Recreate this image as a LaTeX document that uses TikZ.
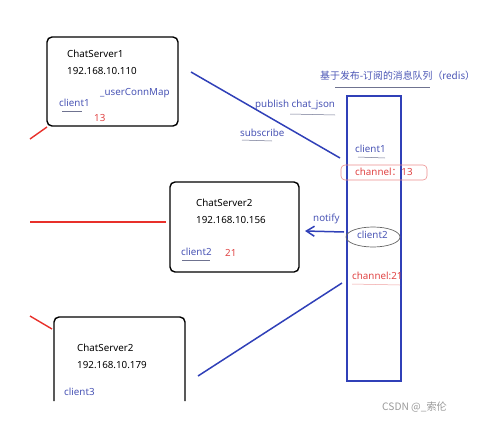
\documentclass[tikz,border=0pt]{standalone}
\usepackage{fontspec}
\setmainfont{Noto Sans}
\newfontfamily\cjk{Noto Sans CJK SC}
\usetikzlibrary{positioning, arrows.meta}

\definecolor{penblue}{HTML}{3040B8}
\definecolor{txtblue}{HTML}{4A55B5}
\definecolor{penred}{HTML}{E8302A}
\definecolor{txtred}{HTML}{E04545}

\tikzset{
  server/.style={draw=black, line width=1.4pt, rounded corners=5pt},
  label/.style={anchor=west, inner sep=0pt, font=\fontsize{9.8}{11}\selectfont},
  bluetxt/.style={label, text=txtblue},
  redtxt/.style={label, text=txtred},
  wire/.style={penblue, line width=1.5pt},
  redwire/.style={penred, line width=1.4pt},
  scribble/.style={gray!70!txtblue, line width=0.5pt}
}

\begin{document}
\begin{tikzpicture}[x=1pt, y=-1pt]

\useasboundingbox (0,0) rectangle (478,423);

% ============================
% CHAT SERVERS
% ============================

\draw[server] (47,37) rectangle (178,126);
\node[label] (s1name) at (67,54) {ChatServer1};
\node[label] (s1ip) at (67,71) {192.168.10.110};
\node[bluetxt] (s1map) at (100,93) {\_userConnMap};
\node[bluetxt] (s1cli) at (59,103) {client1};
\node[redtxt] (s1ch) at (94,118) {13};

\draw[server] (170,182) rectangle (299,272);
\node[label] (s2name) at (196,203) {ChatServer2};
\node[label] (s2ip) at (196,220) {192.168.10.156};
\node[bluetxt] (s2cli) at (181,252) {client2};
\node[redtxt] (s2ch) at (225,253) {21};

% third box runs off the bottom
\draw[server] (54,401) -- (54,317) -- (185,317) -- (185,401);
\node[label] (s3name) at (77,348) {ChatServer2};
\node[label] (s3ip) at (77,365) {192.168.10.179};
\node[bluetxt] (s3cli) at (64,392) {client3};

% client links
\coordinate (c1) at (30,139);
\coordinate (c1e) at (47,127);
\coordinate (c2) at (30,222);
\coordinate (c2e) at (166,222);
\coordinate (c3) at (30,316);
\coordinate (c3e) at (52,329);
\draw[redwire] (c1) -- (c1e);
\draw[redwire] (c2) -- (c2e);
\draw[redwire] (c3) -- (c3e);

% ============================
% MESSAGE QUEUE
% ============================

\draw[penblue, line width=1.6pt] (347,96) rectangle (401,381);
\node[bluetxt, font=\cjk\fontsize{9.9}{11}\selectfont] (mq) at (320,76) {基于发布-订阅的消息队列（redis）};

\node[bluetxt] (q1) at (355,149) {client1};
\draw[txtred!60, rounded corners=4pt, line width=0.6pt] (341,165) rectangle (427,180);
\node[redtxt] (ch13) at (355,172) {channel{\cjk ：}13};

\node[bluetxt] (q2) at (357,235) {client2};
\draw[gray!80!black, line width=0.7pt] (373,237) ellipse (27 and 10);
\node[redtxt] (ch21) at (352,276) {channel:21};

% ============================
% PUBLISH / SUBSCRIBE / NOTIFY
% ============================

\coordinate (p1) at (191,72);
\coordinate (p1e) at (340,158);
\draw[wire] (p1) -- (p1e);
\node[bluetxt] (pub) at (255,105) {publish chat\_json};
\node[bluetxt] (sub) at (240,133) {subscribe};

\coordinate (n1) at (344,232);
\coordinate (n1e) at (305,231);
\draw[wire, -{Straight Barb[length=8pt, width=10pt]}] (n1) -- (n1e);
\node[bluetxt] (ntf) at (313,219) {notify};

\coordinate (p3) at (198,376);
\coordinate (p3e) at (342,283);
\draw[wire] (p3) -- (p3e);

% pen underlines
\draw[scribble] (62,111) -- (82,111);
\draw[scribble] (182,260) -- (210,260);
\draw[scribble] (358,157) -- (385,158);
\draw[scribble] (242,140) -- (272,141);
\draw[scribble] (290,114) -- (335,115);
\draw[scribble] (335,87) -- (430,87);
\draw[txtred!50, line width=0.5pt] (352,284) -- (400,285);

% ============================
% WATERMARK
% ============================

\node[label, text=gray!80, font=\cjk\fontsize{10.2}{11}\selectfont] (wm) at (382,407) {CSDN @\_索伦};

\end{tikzpicture}
\end{document}
